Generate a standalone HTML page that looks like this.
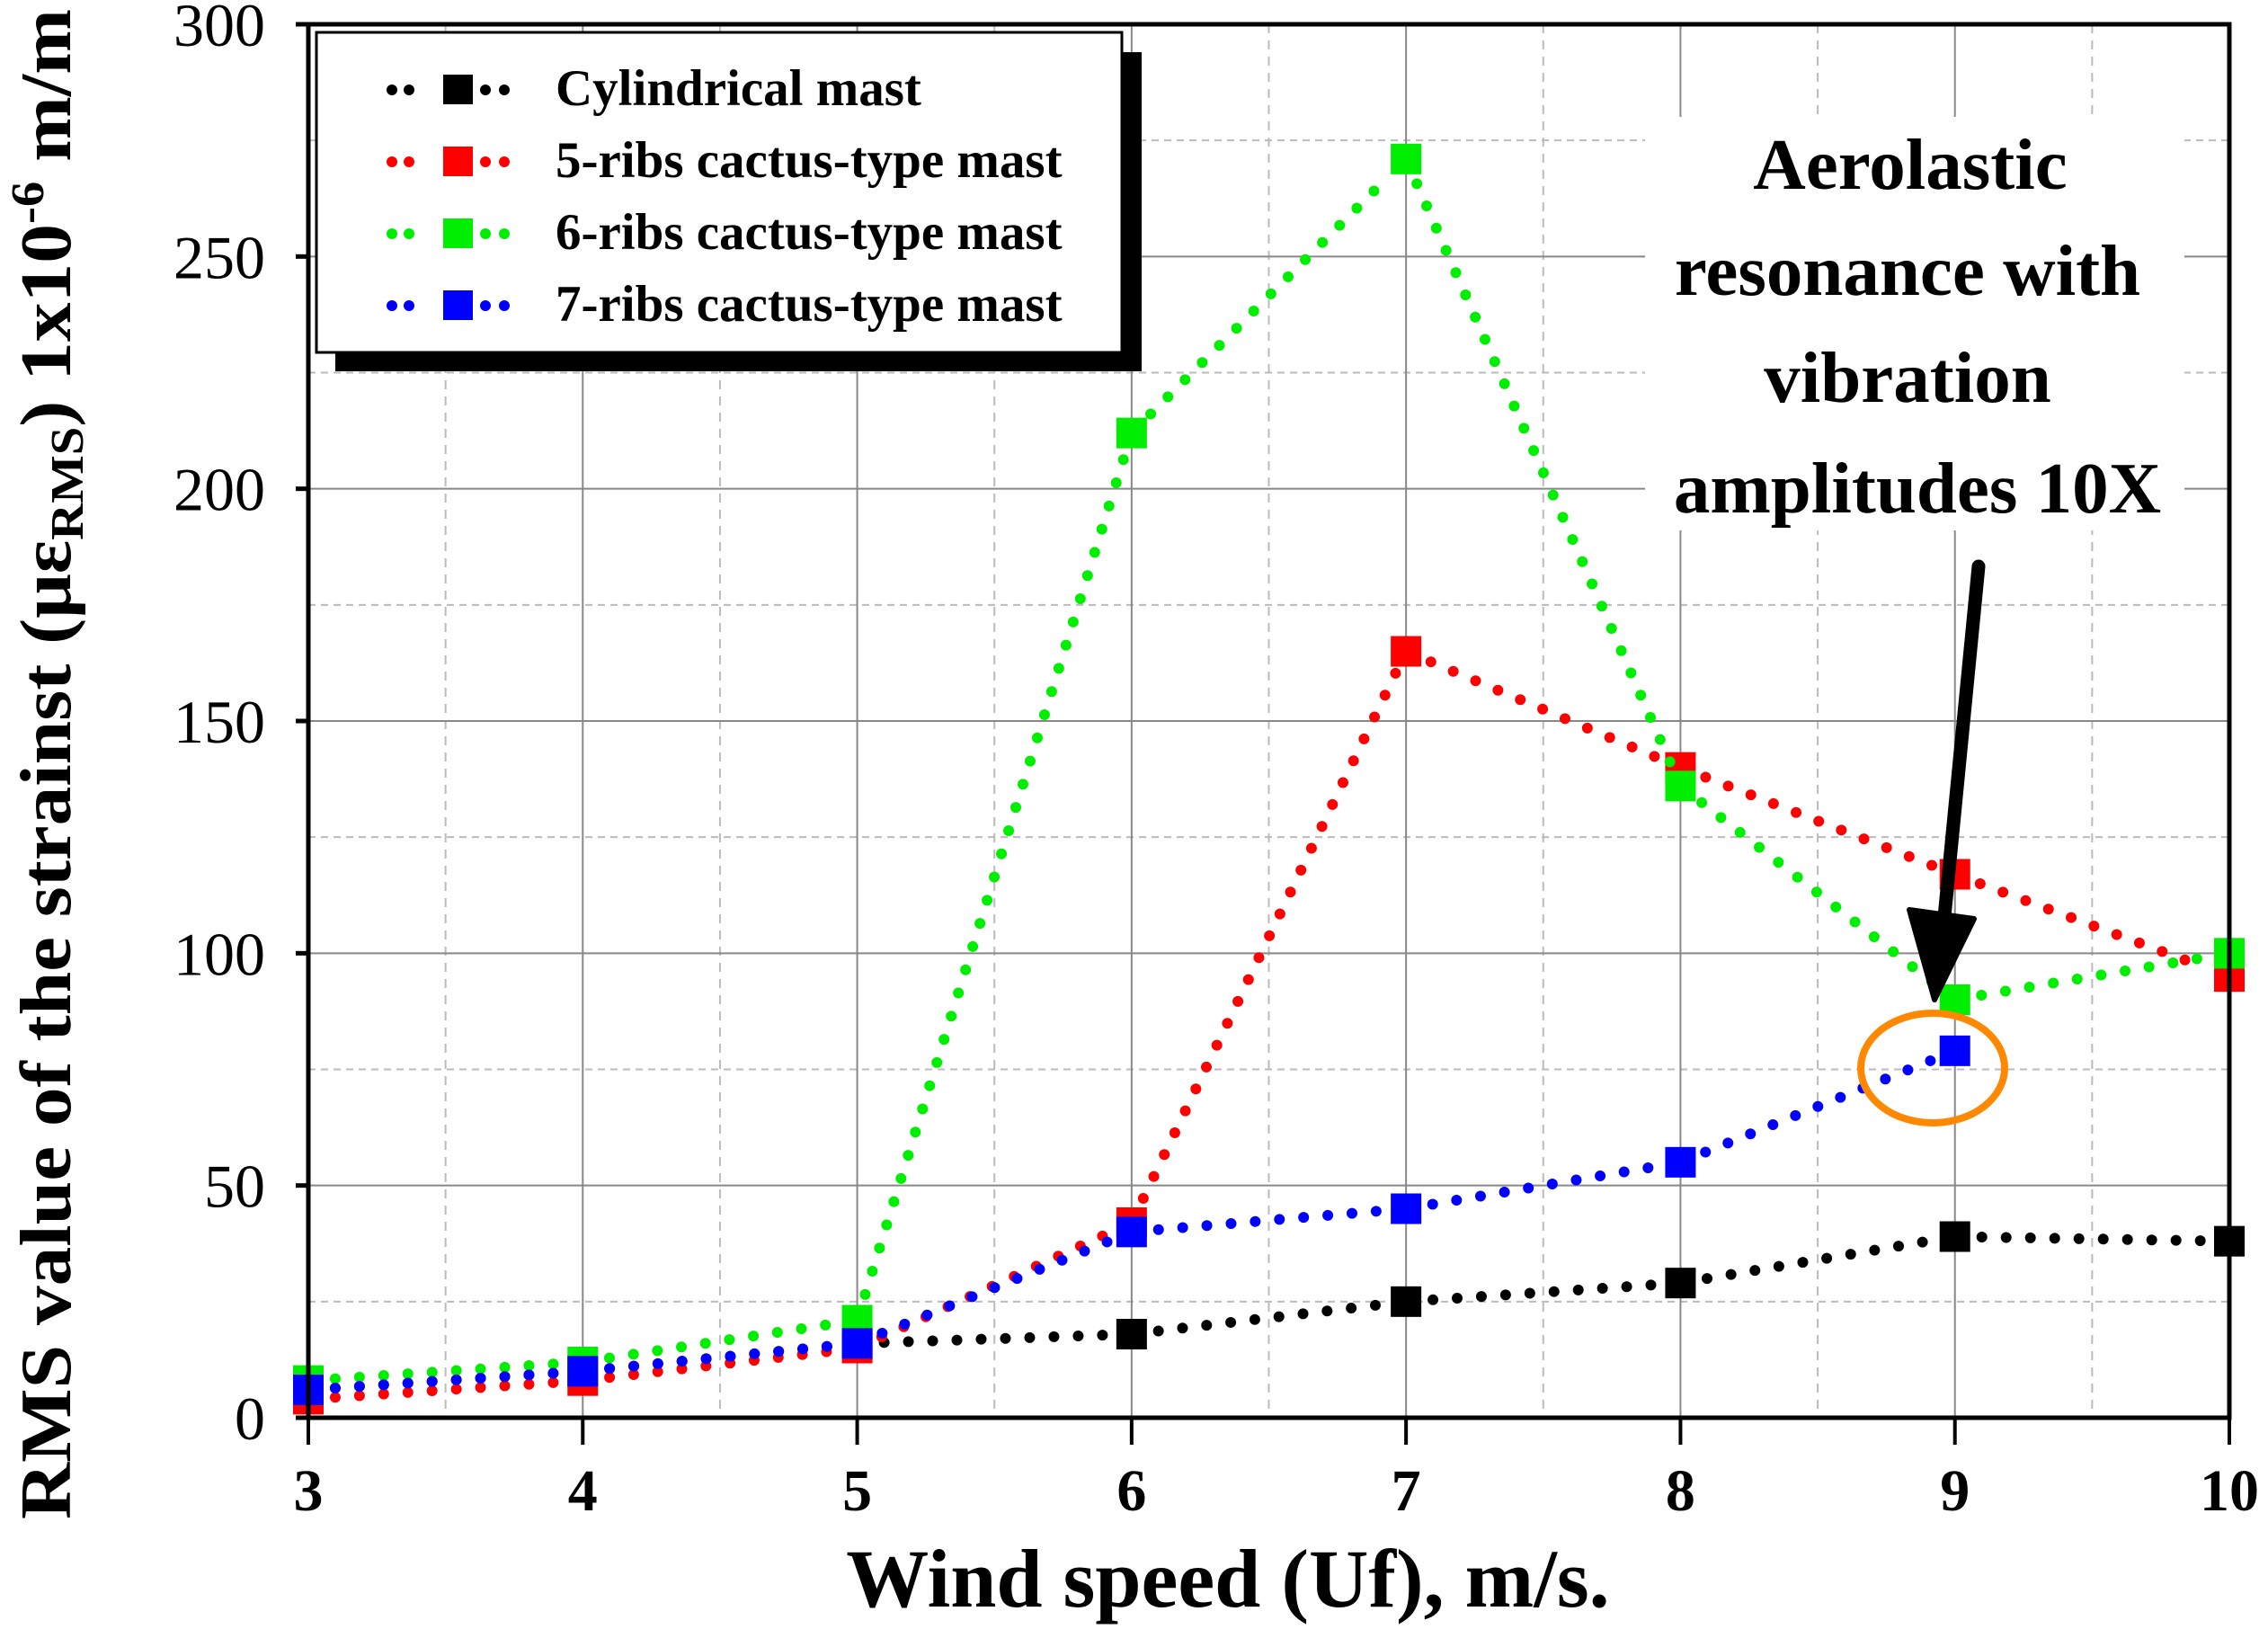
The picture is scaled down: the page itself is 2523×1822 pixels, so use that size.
<!DOCTYPE html>
<html><head><meta charset="utf-8"><style>
html,body{margin:0;padding:0;background:#fff}
svg{display:block;font-family:"Liberation Serif",serif}
</style></head><body>
<svg id="chart" width="2523" height="1822" viewBox="0 0 2523 1822" xmlns="http://www.w3.org/2000/svg">
<rect width="2523" height="1822" fill="#fff"/>
<g id="grid"></g>
<g id="series"></g>
<g id="axes"></g>
<g>
<rect x="373" y="58" width="897" height="355" fill="#000"/>
<rect x="352" y="36" width="896" height="356" fill="#fff" stroke="#000" stroke-width="3"/>
<g id="legend-items"></g>
</g>
<g font-weight="bold" font-size="81" text-anchor="middle">
<rect x="1830" y="130" width="600" height="460" fill="#fff"/>
<text x="2125" y="210">Aerolastic</text>
<text x="2122" y="328">resonance with</text>
<text x="2122" y="447">vibration</text>
<text x="2133" y="570">amplitudes 10X</text>
</g>
<g id="overlay"></g>
<text x="1366" y="1787" text-anchor="middle" font-size="92" font-weight="bold">Wind speed (Uf), m/s.</text>
<text transform="translate(78,850) rotate(-90)" text-anchor="middle" font-size="80" font-weight="bold" textLength="1680" lengthAdjust="spacingAndGlyphs">RMS value of the strainst (με<tspan font-size="52" dy="14">RMS</tspan><tspan dy="-14">) 1x10</tspan><tspan font-size="52" dy="-30">-6</tspan><tspan dy="30"> m/m</tspan></text>
</svg>
<script>
const windSpeeds = [3, 4, 5, 6, 7, 8, 9, 10];
const cylindrical = [6, 10, 16, 18, 25, 29, 39, 38];
const ribs5 = [4, 8, 15, 42, 165, 140, 117, 95];
const ribs6 = [8, 12, 21, 212, 271, 136, 90, 100];
const ribs7 = [6, 10, 16, 40, 45, 55, 79];
const xTicks = [3, 4, 5, 6, 7, 8, 9, 10];
const yTicks = [0, 50, 100, 150, 200, 250, 300];
const seriesNames = ["Cylindrical mast", "5-ribs cactus-type mast", "6-ribs cactus-type mast", "7-ribs cactus-type mast"];

const NS = "http://www.w3.org/2000/svg";
const L = 343, R = 2480, T = 27, B = 1577;
const X = v => L + (v - 3) / 7 * (R - L);
const Y = v => B - v / 300 * (B - T);
function mk(tag, attrs, parent) {
  const e = document.createElementNS(NS, tag);
  for (const k in attrs) e.setAttribute(k, attrs[k]);
  parent.appendChild(e);
  return e;
}
const grid = document.getElementById('grid');
for (let v = 3.5; v < 10; v += 1) {
  const l = mk('line', {x1: X(v), x2: X(v), y1: T, y2: B, stroke: '#bbb', 'stroke-width': 2, 'stroke-dasharray': '10 8'}, grid);
  
  
}
for (let v = 25; v < 300; v += 50) {
  const l = mk('line', {x1: L, x2: R, y1: Y(v), y2: Y(v), stroke: '#bbb', 'stroke-width': 2, 'stroke-dasharray': '8 6'}, grid);
  
  
}
xTicks.forEach(v => {
  const l = mk('line', {x1: X(v), x2: X(v), y1: T, y2: B, stroke: '#888', 'stroke-width': 2}, grid);
  
  
});
yTicks.forEach(v => {
  const l = mk('line', {x1: L, x2: R, y1: Y(v), y2: Y(v), stroke: '#888', 'stroke-width': 2}, grid);
  
  
});

const ser = document.getElementById('series');
const colors = ['#000', '#ff0000', '#00ee00', '#0000ff'];
const data = [cylindrical, ribs5, ribs6, ribs7];
data.forEach((vals, si) => {
  const g = mk('g', {}, ser);
  
  
  for (let i = 0; i + 1 < vals.length; i++) {
    const x1 = X(windSpeeds[i]), y1 = Y(vals[i]), x2 = X(windSpeeds[i + 1]), y2 = Y(vals[i + 1]);
    const len = Math.hypot(x2 - x1, y2 - y1), ux = (x2 - x1) / len, uy = (y2 - y1) / len;
    const ln = mk('line', {x1: x1 + ux * 30, y1: y1 + uy * 30, x2: x2 - ux * 26, y2: y2 - uy * 26, stroke: colors[si], 'stroke-width': 12, 'stroke-linecap': 'round', 'stroke-dasharray': '0 27'}, g);
    
    
  }
  vals.forEach((v, i) => {
    const r = mk('rect', {x: X(windSpeeds[i]) - 17, y: Y(v) - 17, width: 34, height: 34, fill: colors[si]}, g);
    
    
  });
});

const ax = document.getElementById('axes');
const frame = mk('rect', {x: L, y: T, width: R - L, height: B - T, fill: 'none', stroke: '#000', 'stroke-width': 5}, ax);


xTicks.forEach(v => {
  const t = mk('line', {x1: X(v), x2: X(v), y1: B, y2: B + 30, stroke: '#000', 'stroke-width': 4}, ax);
  
  
  const tx = mk('text', {x: X(v), y: 1680, 'text-anchor': 'middle', 'font-size': 66, 'font-weight': 'bold'}, ax);
  tx.textContent = v;
  
  
});
yTicks.forEach(v => {
  const t = mk('line', {x1: L - 14, x2: L, y1: Y(v), y2: Y(v), stroke: '#000', 'stroke-width': 5}, ax);
  
  
  const tx = mk('text', {x: 295, y: Y(v) + 24, 'text-anchor': 'end', 'font-size': 68}, ax);
  tx.textContent = v;
  
  
});

const li = document.getElementById('legend-items');
seriesNames.forEach((n, i) => {
  const cy = 100 + i * 80;
  const g = mk('g', {}, li);
  
  
  [436, 455, 540, 561].forEach(cx => mk('circle', {cx: cx, cy: cy, r: 6, fill: colors[i]}, g));
  mk('rect', {x: 493, y: cy - 17, width: 33, height: 33, fill: colors[i]}, g);
  const t = mk('text', {x: 618, y: cy + 17, 'font-size': 57, 'font-weight': 'bold'}, g);
  t.textContent = n;
});

const ov = document.getElementById('overlay');
const ell = mk('ellipse', {cx: 2150, cy: 1188, rx: 80, ry: 61, fill: 'none', stroke: '#ff8800', 'stroke-width': 8}, ov);


const sh = mk('path', {d: 'M2201 630 Q2185 800 2162 1030', fill: 'none', stroke: '#000', 'stroke-width': 15, 'stroke-linecap': 'round'}, ov);


const hd = mk('path', {d: 'M2124 1012 L2196 1022 L2152 1112 Z', fill: '#000', stroke: '#000', 'stroke-width': 6, 'stroke-linejoin': 'round'}, ov);


</script>
</body></html>
